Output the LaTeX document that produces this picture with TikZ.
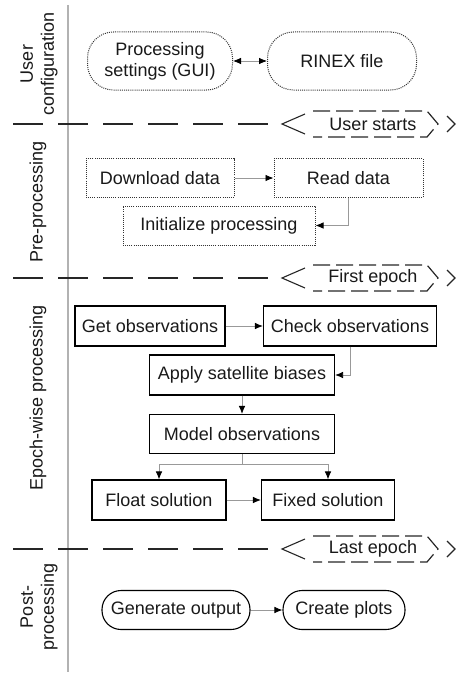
\documentclass[tikz,border=0pt]{standalone}
\usepackage{fontspec}
\setmainfont{Liberation Sans}
\usetikzlibrary{arrows.meta,calc}
\begin{document}
\begin{tikzpicture}[x=1pt,y=-1pt,
  every node/.style={font=\fontsize{18}{21}\selectfont, text=black!90, inner sep=0pt},
  procbox/.style={draw=black, line width=1.1pt, rectangle, align=center},
  dotbox/.style={procbox, draw=black!80, line width=1pt, dash pattern=on 1pt off 1.1pt},
  dotround/.style={dotbox, rounded corners=26pt},
  roundbox/.style={procbox, rounded corners=19pt},
  link/.style={draw=black!40, line width=0.8pt, -{Latex[length=8pt,width=6.5pt,color=black]}},
  biglink/.style={draw=black!40, line width=0.8pt, {Latex[length=8pt,width=6.5pt,color=black]}-{Latex[length=8pt,width=6.5pt,color=black]}},
  phase/.style={rotate=90, align=center},
  sepline/.style={draw=black!85, line width=1.4pt, dash pattern=on 30pt off 15pt},
  tagline/.style={draw=black!85, line width=1.2pt, dash pattern=on 17pt off 6pt},
  chevron/.style={draw=black!85, line width=1.1pt}
]
\useasboundingbox (0,0) rectangle (461,677);

% lane divider
\draw[draw=black!30, line width=1.2pt] (68,5) -- (68,672);

% phase names
\node[phase] (ph1) at (39,64) {User\\configuration};
\node[phase] (ph2) at (38,202) {Pre-processing};
\node[phase] (ph3) at (38,398) {Epoch-wise processing};
\node[phase] (ph4) at (39,607) {Post-\\processing};

% phase boundaries with event tags
\foreach \yy/\txt/\nm in {124/User starts/ev1, 278/First epoch/ev2, 549/Last epoch/ev3}{
  \draw[sepline] (13,\yy) -- (270,\yy);
  \node (\nm) at (373,\yy) {\txt};
  \draw[chevron] (305,\yy-10) -- (282,\yy) -- (305,\yy+10);
  \draw[tagline] (313,\yy-13) -- (427,\yy-13) -- (438,\yy) -- (427,\yy+13) -- (313,\yy+13);
  \draw[chevron] (447,\yy-8) -- (455,\yy) -- (447,\yy+8);
}

% user configuration
\node[dotround, minimum width=145pt, minimum height=58pt] (gui) at (160,61) {Processing\\settings (GUI)};
\node[dotround, minimum width=149pt, minimum height=58pt] (rinex) at (342,61) {RINEX file};
\draw[biglink] (gui) -- (rinex);

% pre-processing
\node[dotbox, minimum width=148pt, minimum height=39pt] (dl) at (160,178) {Download data};
\node[dotbox, minimum width=149pt, minimum height=39pt] (rd) at (348.5,178) {Read data};
\node[dotbox, minimum width=192pt, minimum height=39pt] (init) at (219,225.5) {Initialize processing};
\draw[link] (dl) -- (rd);
\draw[link] (rd.south) |- (init.east);

% epoch-wise processing
\node[procbox, minimum width=150pt, minimum height=40pt] (getobs) at (150,326) {Get observations};
\node[procbox, minimum width=173pt, minimum height=40pt] (chk) at (350,326) {Check observations};
\node[procbox, minimum width=185pt, minimum height=40pt] (bias) at (242,375) {Apply satellite biases};
\node[procbox, minimum width=185pt, minimum height=39pt] (model) at (242,434) {Model observations};
\node[procbox, minimum width=134pt, minimum height=40pt] (float) at (159,500) {Float solution};
\node[procbox, minimum width=133pt, minimum height=40pt] (fixed) at (328,500) {Fixed solution};
\draw[link] (getobs) -- (chk);
\draw[link] (chk.south) |- (bias.east);
\draw[link] (bias) -- (model);
\coordinate (split) at ($(model.south)+(0,10)$);
\draw[link] (model.south) -- (split) -| (float.north);
\draw[link] (split) -| (fixed.north);
\draw[link] (float) -- (fixed);

% post-processing
\node[roundbox, minimum width=148pt, minimum height=39pt] (gen) at (176,610) {Generate output};
\node[roundbox, minimum width=122pt, minimum height=39pt] (plots) at (344,610) {Create plots};
\draw[link] (gen) -- (plots);
\end{tikzpicture}
\end{document}
